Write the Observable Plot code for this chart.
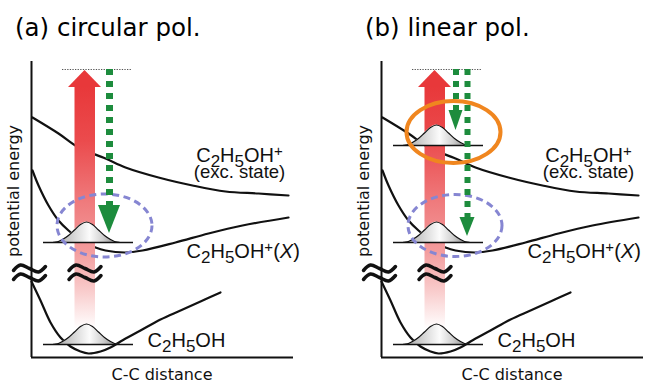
<!DOCTYPE html>
<html>
<head>
<meta charset="utf-8">
<script src="https://cdn.jsdelivr.net/npm/d3@7"></script>
<script src="https://cdn.jsdelivr.net/npm/@observablehq/plot@0.6"></script>
<style>
  body { margin: 0; background: #fff; }
  #wrap { position: relative; width: 654px; height: 383px; overflow: hidden; background: #fff; }
  .title { position: absolute; top: 16px; font-family: "DejaVu Sans", sans-serif; font-size: 24.5px; line-height: 1; white-space: nowrap; color: #000; }
  .panel { position: absolute; top: 50px; }
</style>
</head>
<body>
<svg width="0" height="0" style="position:absolute">
  <defs>
    <linearGradient id="redBody" x1="0" y1="0" x2="0" y2="1">
      <stop offset="0" stop-color="#e8383a"/>
      <stop offset="0.22" stop-color="#eb4b4d"/>
      <stop offset="0.46" stop-color="#ef7a7c"/>
      <stop offset="0.66" stop-color="#f39c9d"/>
      <stop offset="0.82" stop-color="#f9cccc"/>
      <stop offset="0.97" stop-color="#ffffff"/>
    </linearGradient>
    <linearGradient id="wpFill" x1="0" y1="0" x2="1" y2="0">
      <stop offset="0" stop-color="#a0a0a0"/>
      <stop offset="0.3" stop-color="#d2d2d2"/>
      <stop offset="0.55" stop-color="#fbfbfb"/>
      <stop offset="0.75" stop-color="#cfcfcf"/>
      <stop offset="1" stop-color="#7a7a7a"/>
    </linearGradient>
  </defs>
</svg>
<div id="wrap"></div>
<script>
// ---------------- data (arbitrary units: C-C distance, potential energy) ----------------
const panelIds = ["a", "b"];
const panelTitles = ["(a) circular pol.", "(b) linear pol."];

// potential energy curves [distance, energy]
const groundState = [[0,76],[9,57],[19,35],[29,20],[39,11],[49,6],[57,4],[69,6],[79,10],[89,16],[109,27],[129,38],[149,47],[169,56],[189,65]];
const ionXState = [[1,187],[7,172],[17,152],[27,137],[37,127],[50,117],[64,110],[74,107],[94,105],[111,107],[144,115],[177,124],[211,132],[257,140]];
const ionExcState = [[1,240],[27,224],[47,210],[74,199],[94,190],[127,180],[161,172],[194,166],[227,164],[257,162]];

// vibrational wavepacket profile [offset from centre, height]
const wavepacketCenter = 55;
const wavepacketProfile = [[-34,0],[-28,1],[-24,3],[-18,7],[-12,12.5],[-6,18],[0,20.5],[6,18],[12,12.5],[18,7],[24,3],[28,1],[34,0]];
const wavepacketLevels = { a: [13, 115], b: [13, 115, 212] };
const wavepacketSpan = [12, 102];

// pump (red) arrow
const pumpBody = { x1: 43.5, x2: 64, y1: 21, y2: 271 };
const pumpHead = { x1: 37, x2: 70, base: 270, tip: 287 };
const photonEnergy = { y: 288, x1: 31, x2: 101 };

// probe (green) arrows
const probeArrows = {
  a: [{ x: 78, top: 288, base: 152, tip: 124, half: 11 }],
  b: [{ x: 74.5, top: 288, base: 247, tip: 227, half: 7 }, { x: 86, top: 288, base: 140, tip: 121, half: 7.5 }]
};

// highlight ellipses
const purpleEllipses = { a: [{ cx: 73.5, cy: 131.5, rx: 47.5, ry: 31.5 }], b: [{ cx: 74, cy: 131.5, rx: 47, ry: 31 }] };
const orangeEllipses = { a: [], b: [{ cx: 72.5, cy: 225, rx: 47, ry: 31 }] };

// axis break marks
const breakShape = [[-16,-2],[-9,3.5],[0,0],[9,-3.5],[16,2]];
const breakCenters = [[-2,89],[-2,80],[53.5,89],[53.5,80]];

// labels (second line of a label after "\n")
const stateLabels = {
  a: [
    { x: 208, y: 196, text: "C2H5OH+\n(exc. state)", anchor: "middle" },
    { x: 155, y: 100, text: "C2H5OH+(X)", anchor: "start" },
    { x: 116, y: 11, text: "C2H5OH", anchor: "start" }
  ],
  b: [
    { x: 207, y: 196, text: "C2H5OH+\n(exc. state)", anchor: "middle" },
    { x: 146, y: 100, text: "C2H5OH+(X)", anchor: "start" },
    { x: 116, y: 11, text: "C2H5OH", anchor: "start" }
  ]
};
const axisLabels = { y: "potential energy", x: "C-C distance" };

// ---------------- drawing ----------------
const panelWidths = [350, 304];
const green = "#1d8c3d";
const wrap = document.getElementById("wrap");

function ellipseMark(list, style) {
  return (index, scales) => {
    const x = scales.x, y = scales.y;
    const g = d3.create("svg:g");
    for (const e of list) {
      g.append("ellipse")
        .attr("cx", x(e.cx)).attr("cy", y(e.cy))
        .attr("rx", Math.abs(x(e.cx + e.rx) - x(e.cx)))
        .attr("ry", Math.abs(y(e.cy + e.ry) - y(e.cy)))
        .attr("fill", "none")
        .attr("stroke", style.stroke)
        .attr("stroke-width", style.width)
        .attr("stroke-dasharray", style.dash || null);
    }
    return g.node();
  };
}

// rich text: subscript digits, superscript "+", italic X, optional second line
function formatLabel(el) {
  const full = el.textContent;
  const m = full.match(/^(C2H5OH\+?(?:\(X\))?)([\s\S]*)$/);
  if (!m) return;
  const formula = m[1], rest = m[2].replace(/^\s+/, "");
  const xAttr = el.getAttribute("x");
  const sel = d3.select(el);
  sel.selectAll("*").remove();
  sel.text("");
  let shift = 0;
  for (const ch of formula) {
    let target = 0, size = null, italic = false;
    if (/[0-9]/.test(ch)) { target = 5; size = "0.85em"; }
    else if (ch === "+") { target = -5.5; size = "0.75em"; }
    else if (ch === "X") italic = true;
    const t = sel.append("tspan").text(ch);
    if (target - shift !== 0) t.attr("dy", target - shift);
    shift = target;
    if (size) t.attr("font-size", size);
    if (italic) t.attr("font-style", "italic");
  }
  if (rest) {
    sel.append("tspan")
      .attr("x", xAttr && !/em$/.test(xAttr) ? xAttr : 0)
      .attr("dy", 16 - shift)
      .attr("font-size", 18.5)
      .text(rest);
  }
}

panelIds.forEach((id, i) => {
  const W = panelWidths[i];
  const left = i === 0 ? 0 : 350;

  const title = document.createElement("div");
  title.className = "title";
  title.style.left = (left + 15) + "px";
  title.textContent = panelTitles[i];
  wrap.appendChild(title);

  const wpData = wavepacketLevels[id].flatMap((base, k) =>
    wavepacketProfile.map(([dx, h]) => ({ x: wavepacketCenter + dx, base, top: base + h, k })));

  const breakData = breakCenters.flatMap(([cx, cy], k) =>
    breakShape.map(([dx, dy]) => ({ x: cx + dx, y: cy + dy, k })));

  const pumpHeadPts = [
    { x: pumpHead.x1, y1: pumpHead.base, y2: pumpHead.base },
    { x: (pumpHead.x1 + pumpHead.x2) / 2, y1: pumpHead.base, y2: pumpHead.tip },
    { x: pumpHead.x2, y1: pumpHead.base, y2: pumpHead.base }
  ];
  const probeHeadPts = probeArrows[id].flatMap((a, k) => [
    { x: a.x - a.half, y1: a.base, y2: a.base, k },
    { x: a.x, y1: a.base, y2: a.tip, k },
    { x: a.x + a.half, y1: a.base, y2: a.base, k }
  ]);

  const labels = stateLabels[id];
  const textStyle = { x: "x", y: "y", text: "text", fontSize: 20, fontFamily: "Liberation Sans", fill: "#111" };

  const chart = Plot.plot({
    width: W,
    height: 333,
    marginLeft: 31,
    marginRight: W - 293,
    marginTop: 11,
    marginBottom: 26,
    x: { domain: [0, 262], axis: null },
    y: { domain: [0, 296], axis: null },
    style: { background: "transparent", overflow: "hidden" },
    marks: [
      Plot.ruleX([0], { y1: 0, y2: 296, strokeWidth: 2, stroke: "#111" }),
      Plot.ruleY([0], { x1: 0, x2: 262, strokeWidth: 2, stroke: "#111" }),
      Plot.line(groundState, { x: d => d[0], y: d => d[1], curve: "catmull-rom", strokeWidth: 2.2, stroke: "#111" }),
      Plot.line(ionXState, { x: d => d[0], y: d => d[1], curve: "catmull-rom", strokeWidth: 2.2, stroke: "#111" }),
      Plot.line(ionExcState, { x: d => d[0], y: d => d[1], curve: "catmull-rom", strokeWidth: 2.2, stroke: "#111" }),
      Plot.rect([pumpBody], { x1: "x1", x2: "x2", y1: "y1", y2: "y2", fill: "url(#redBody)" }),
      Plot.line(breakData, { x: "x", y: "y", z: "k", curve: "catmull-rom", strokeWidth: 3.5, stroke: "#111", strokeLinecap: "round" }),
      Plot.areaY(wpData, { x: "x", y1: "base", y2: "top", z: "k", curve: "catmull-rom", fill: "url(#wpFill)" }),
      Plot.line(wpData, { x: "x", y: "top", z: "k", curve: "catmull-rom", stroke: "#111", strokeWidth: 1.2 }),
      Plot.ruleY(wavepacketLevels[id], { x1: wavepacketSpan[0], x2: wavepacketSpan[1], stroke: "#111", strokeWidth: 1.6 }),
      ellipseMark(purpleEllipses[id], { stroke: "#8686d2", width: 3, dash: "7,4.5" }),
      ellipseMark(orangeEllipses[id], { stroke: "#f0861f", width: 4 }),
      Plot.ruleY([photonEnergy], { y: "y", x1: "x1", x2: "x2", stroke: "#555", strokeWidth: 1, strokeDasharray: "1.3,1.3" }),
      Plot.areaY(pumpHeadPts, { x: "x", y1: "y1", y2: "y2", fill: "#e8383a" }),
      Plot.ruleX(probeArrows[id], { x: "x", y1: "top", y2: "base", stroke: green, strokeWidth: id === "a" ? 7 : 6, strokeDasharray: "6,6" }),
      Plot.areaY(probeHeadPts, { x: "x", y1: "y1", y2: "y2", z: "k", fill: green }),
      Plot.text(labels.filter(d => d.anchor === "middle"), { ...textStyle, textAnchor: "middle" }),
      Plot.text(labels.filter(d => d.anchor === "start"), { ...textStyle, textAnchor: "start" }),
      Plot.text([axisLabels.y], { x: -13, y: 166.5, text: d => d, rotate: -90, fontSize: 16, fontFamily: "DejaVu Sans", fill: "#111", textAnchor: "middle" }),
      Plot.text([axisLabels.x], { x: 130.5, y: -22, text: d => d, fontSize: 16, fontFamily: "DejaVu Sans", fill: "#111", textAnchor: "middle" })
    ]
  });

  const holder = document.createElement("div");
  holder.className = "panel";
  holder.style.left = left + "px";
  holder.appendChild(chart);
  wrap.appendChild(holder);

  d3.select(chart).selectAll("text").each(function () {
    for (const a of ["y", "dy"]) {
      const v = this.getAttribute(a);
      if (v && /em$/.test(v)) this.setAttribute(a, "0");
    }
    if (/^C2H5OH/.test(this.textContent)) formatLabel(this);
  });
});
</script>
</body>
</html>
